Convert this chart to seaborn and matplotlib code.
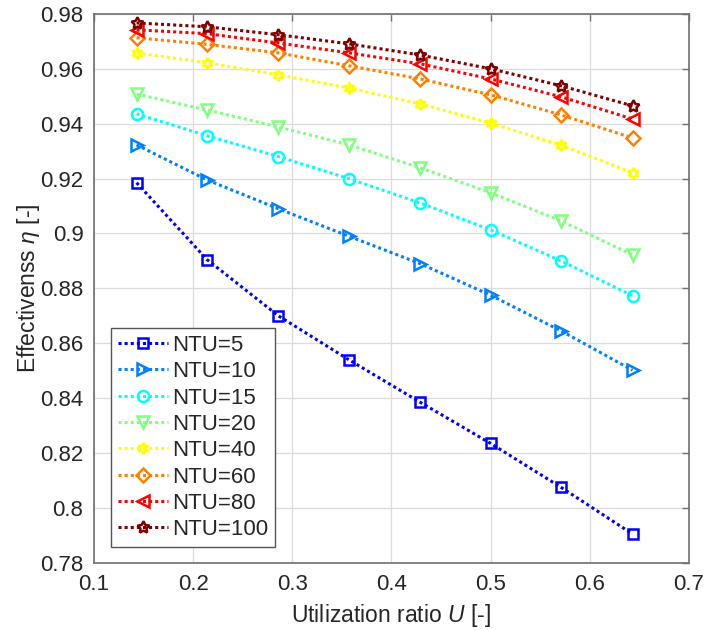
import pandas as pd
import seaborn as sns
import matplotlib.pyplot as plt

# utilization ratio U
u = [0.143, 0.214, 0.286, 0.357, 0.429, 0.5, 0.571, 0.643]

# effectiveness for each NTU
ntu5 = [0.9185, 0.8905, 0.870, 0.854, 0.8385, 0.8235, 0.8075, 0.7905]
ntu10 = [0.9323, 0.9195, 0.909, 0.899, 0.889, 0.8775, 0.8645, 0.8502]
ntu15 = [0.9436, 0.9356, 0.928, 0.920, 0.9111, 0.9013, 0.890, 0.8773]
ntu20 = [0.9508, 0.945, 0.9388, 0.9323, 0.9239, 0.9148, 0.9046, 0.8922]
ntu40 = [0.9658, 0.9622, 0.9578, 0.953, 0.9472, 0.9402, 0.9322, 0.9221]
ntu60 = [0.9713, 0.9689, 0.9658, 0.9611, 0.9563, 0.9505, 0.9432, 0.9348]
ntu80 = [0.9742, 0.9728, 0.9694, 0.9658, 0.9618, 0.9563, 0.9498, 0.9417]
ntu100 = [0.9767, 0.9753, 0.9724, 0.9691, 0.965, 0.960, 0.9538, 0.9465]

labels = ['NTU=5', 'NTU=10', 'NTU=15', 'NTU=20', 'NTU=40', 'NTU=60', 'NTU=80', 'NTU=100']
series = [ntu5, ntu10, ntu15, ntu20, ntu40, ntu60, ntu80, ntu100]

# jet(8) colours and MATLAB-like markers
colors = [(0, 0, 1), (0, 0.5, 1), (0, 1, 1), (0.5, 1, 0.5),
          (1, 1, 0), (1, 0.5, 0), (1, 0, 0), (0.5, 0, 0)]
markers = ['s', '>', 'o', 'v', (6, 1, 0), 'D', '<', (5, 1, 0)]
msizes = [7, 8, 8, 8, 8, 7, 8, 9]

sns.set_style('white')
plt.rcParams['font.family'] = ['Liberation Sans', 'DejaVu Sans']
plt.rcParams['mathtext.fontset'] = 'custom'
plt.rcParams['mathtext.it'] = 'Liberation Sans:italic'
plt.rcParams['mathtext.rm'] = 'Liberation Sans'

fig = plt.figure(figsize=(7.06, 6.31), dpi=100)
ax = fig.add_axes([0.133, 0.108, 0.843, 0.870])

for vals, lab, c, m, ms in zip(series, labels, colors, markers, msizes):
    df = pd.DataFrame({'U': u, 'eff': vals})
    sns.lineplot(data=df, x='U', y='eff', ax=ax, color=c, label=lab,
                 marker=m, markersize=ms, markerfacecolor='none',
                 markeredgecolor=c, markeredgewidth=1.8,
                 linestyle=(0, (1, 1)), linewidth=2.2)

ax.set_xlim(0.1, 0.7)
ax.set_ylim(0.78, 0.98)
ax.set_xticks([0.1, 0.2, 0.3, 0.4, 0.5, 0.6, 0.7])
ax.set_xticklabels(['0.1', '0.2', '0.3', '0.4', '0.5', '0.6', '0.7'])
yt = [0.78, 0.8, 0.82, 0.84, 0.86, 0.88, 0.9, 0.92, 0.94, 0.96, 0.98]
ax.set_yticks(yt)
ax.set_yticklabels(['0.78', '0.8', '0.82', '0.84', '0.86', '0.88', '0.9',
                    '0.92', '0.94', '0.96', '0.98'])

ax.grid(True, color='#dcdcdc', linewidth=0.9)
ax.set_axisbelow(True)
for s in ax.spines.values():
    s.set_color('#707070')
    s.set_linewidth(1.2)
ax.tick_params(direction='in', length=5, width=1, color='#707070',
               top=True, right=True, labelsize=16, labelcolor='#262626')
ax.tick_params(axis='y', pad=7.5)
ax.tick_params(axis='x', pad=8)

ax.set_xlabel('Utilization ratio $U$ [-]', fontsize=16.5, color='#262626', labelpad=5)
ax.set_ylabel(r'Effectivenss $\eta$ [-]', fontsize=16.5, color='#262626', labelpad=-1)

leg = ax.legend(loc='lower left', bbox_to_anchor=(0.0286, 0.029),
                borderaxespad=0, fontsize=16, fancybox=False, framealpha=1,
                edgecolor='#555555', handlelength=2.25, labelspacing=0.24,
                handletextpad=0.22, borderpad=0.3)
leg.get_frame().set_linewidth(1.0)

fig.savefig('out.png', dpi=100)
